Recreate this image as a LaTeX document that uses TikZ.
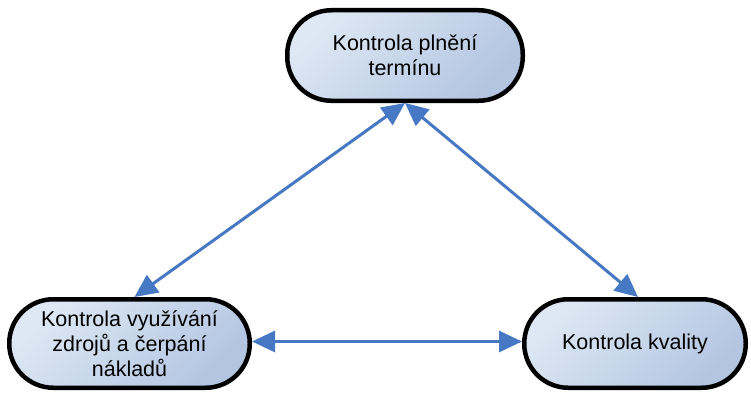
\documentclass[tikz,border=0pt]{standalone}
\usepackage{fontspec}
\setmainfont{Liberation Sans}
\usetikzlibrary{arrows.meta}
\definecolor{boxlight}{RGB}{222,232,244}
\definecolor{boxdark}{RGB}{178,197,225}
\definecolor{linkblue}{RGB}{70,120,195}
\tikzset{
  stadium/.style={draw=black, line width=4.5pt, rounded corners=44pt,
    shade, top color=boxlight, bottom color=boxdark, shading angle=45,
    align=center, inner sep=0pt,
    font=\fontsize{21.5}{25}\selectfont},
  link/.style={draw=linkblue, line width=3pt,
    {Triangle[length=23pt,width=21pt]}-{Triangle[length=23pt,width=21pt]}}
}
\begin{document}
\begin{tikzpicture}[x=1pt,y=-1pt]
  \useasboundingbox (0,0) rectangle (751,396);
  \node[stadium, minimum width=235.5pt, minimum height=90.5pt] (term) at (405,55.5)
    {Kontrola plnění\\termínu};
  \node[stadium, minimum width=240.5pt, minimum height=88.5pt] (res) at (129.5,343.5)
    {Kontrola využívání\\zdrojů a čerpání\\nákladů};
  \node[stadium, minimum width=221.5pt, minimum height=88.5pt] (qual) at (635,343.5)
    {Kontrola kvality};
  \draw[link] (term.south) -- ([xshift=5pt]res.north);
  \draw[link] (term.south) -- ([xshift=3pt]qual.north);
  \draw[link] ([yshift=2pt]res.east) -- ([yshift=2pt]qual.west);
\end{tikzpicture}
\end{document}
